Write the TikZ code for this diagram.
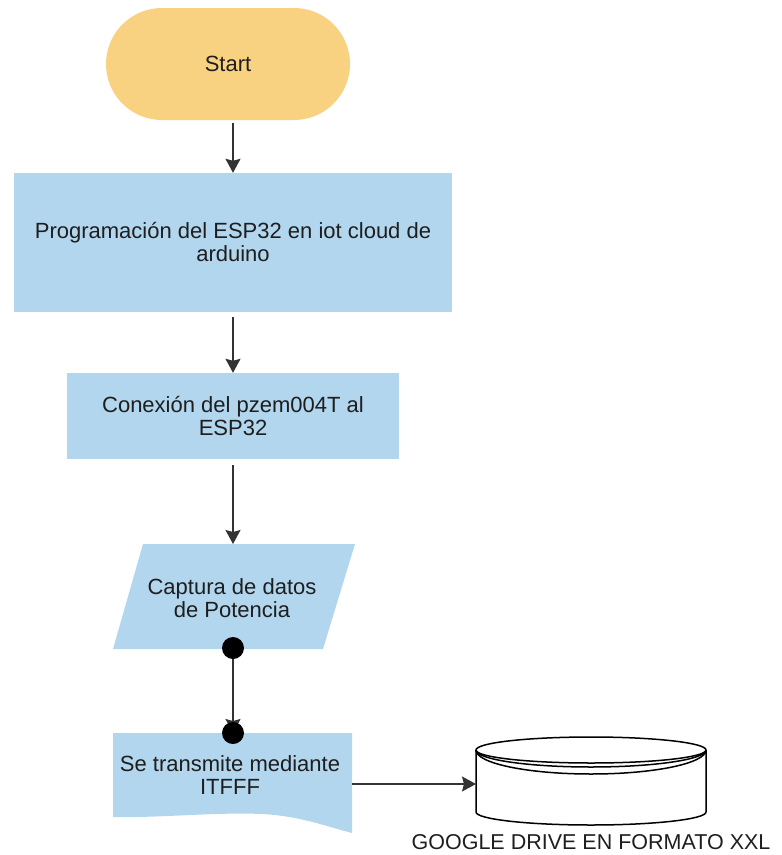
\documentclass[tikz,border=0pt]{standalone}
\usepackage{fontspec}
\setmainfont{Liberation Sans}
\usetikzlibrary{arrows.meta,calc}
\definecolor{startfill}{HTML}{F9D281}
\definecolor{boxfill}{HTML}{B2D6EE}
\definecolor{linecol}{HTML}{333333}
\definecolor{txtcol}{HTML}{1E1E1E}
\tikzset{
  txt/.style={text=txtcol,font=\fontsize{22}{23}\selectfont,align=center,inner sep=0pt},
  startbox/.style={txt,fill=startfill,rounded corners=56pt,minimum width=244pt,minimum height=112pt},
  procbox/.style={txt,fill=boxfill},
  shapefill/.style={fill=boxfill,draw=none},
  conn/.style={draw=linecol,line width=1.6pt,-{Stealth[width=15pt,length=14pt,inset=2pt]}},
  dotc/.style={fill=black},
  disk/.style={draw=black,line width=1.5pt,fill=white},
}
\begin{document}
\begin{tikzpicture}[x=1pt,y=-1pt]
\useasboundingbox (0,0) rectangle (782,855);
% Start
\node[startbox] (start) at (228,64) {Start};
% process boxes
\node[procbox,minimum width=438pt,minimum height=139pt] (prog) at (233,242.5)
  {Programación del ESP32 en iot cloud de\\arduino};
\node[procbox,minimum width=332pt,minimum height=86pt] (conx) at (233,416)
  {Conexión del pzem004T al\\ESP32};
% parallelogram
\path[shapefill] (143,544) -- (355,544) -- (323,649) -- (113,649) -- cycle;
\coordinate (captop) at (233,544);
\coordinate (capbot) at (233,648);
\node[txt] (cap) at (232,598) {Captura de datos\\de Potencia};
% document shape
\path[shapefill] (113,733) -- (352,733) -- (352,833)
  .. controls (325,826) and (300,816) .. (262,814)
  .. controls (215,812) and (160,818) .. (113,817) -- cycle;
\coordinate (doctop) at (233,733);
\coordinate (docright) at (352,784);
\node[txt] (doc) at (230,775) {Se transmite mediante\\ITFFF};
% cylinder (disk)
\path[disk] (476,750) -- (476,812) arc[start angle=180,end angle=360,x radius=115pt,y radius=13pt]
  -- (706,750);
\path[disk] (591,750) ellipse[x radius=115pt,y radius=13pt];
\draw[black,line width=1.5pt] (476,750) arc[start angle=180,end angle=360,x radius=115pt,y radius=17pt];
\draw[black,line width=1.5pt] (476,750) arc[start angle=180,end angle=360,x radius=115pt,y radius=24pt];
\coordinate (cylleft) at (476,784);
\node[txt,font=\fontsize{21.5}{23}\selectfont] (cyllabel) at (591,842) {GOOGLE DRIVE EN FORMATO XXL};
% connectors
\draw[conn,shorten <=3pt] (prog.north |- start.south) -- (prog.north);
\draw[conn,shorten <=5pt] (prog.south) -- (conx.north);
\draw[conn,shorten <=6pt] (conx.south) -- (captop);
\draw[conn] (capbot) -- (doctop);
\fill[dotc] (capbot) circle[radius=11pt];
\fill[dotc] (doctop) circle[radius=11pt];
\draw[conn] (docright) -- (cylleft);
\end{tikzpicture}
\end{document}
